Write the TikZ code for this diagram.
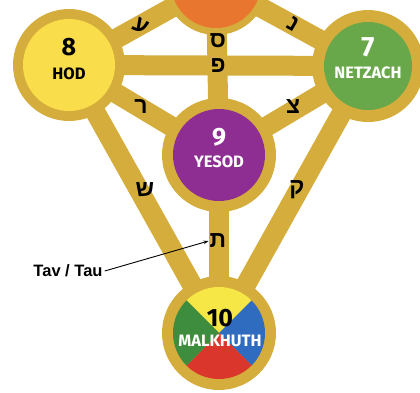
\documentclass[tikz,border=0pt]{standalone}
\usepackage{fontspec}
\setmainfont{Fira Sans}
\newfontfamily\hebfont[Script=Hebrew]{Liberation Sans}
\newfontfamily\lblfont{Liberation Sans}
\usetikzlibrary{arrows.meta}
\definecolor{gold}{RGB}{212,173,60}
\definecolor{hodyellow}{RGB}{250,221,75}
\definecolor{netgreen}{RGB}{104,168,74}
\definecolor{yespurple}{RGB}{142,46,147}
\definecolor{tiforange}{RGB}{232,118,47}
\definecolor{mkyellow}{RGB}{246,230,70}
\definecolor{mkblue}{RGB}{47,107,190}
\definecolor{mkred}{RGB}{218,54,43}
\definecolor{mkgreen}{RGB}{62,140,62}
\tikzset{
  band/.style={draw=gold, line width=20pt},
  ring/.style={circle, fill=gold, inner sep=0pt, minimum size=112pt},
  core/.style={circle, inner sep=0pt, minimum size=92pt},
  letter/.style={font=\hebfont\bfseries\fontsize{23}{25}\selectfont, text=black, inner sep=1pt},
  num/.style={font=\bfseries\fontsize{25}{27}\selectfont, inner sep=0pt},
  nm/.style={font=\bfseries\fontsize{16.5}{18}\selectfont, inner sep=0pt},
}
\begin{document}
\begin{tikzpicture}[x=1pt,y=-1pt]
\useasboundingbox (0,0) rectangle (420,393);
\clip (0,0) rectangle (420,393);
% centres
\coordinate (ctif) at (216,-17);
\coordinate (chod) at (69,65);
\coordinate (cnet) at (368,66);
\coordinate (cyes) at (219,155);
\coordinate (cmal) at (219,333);
% paths
\draw[band] (chod) -- (cnet);
\draw[band] (ctif) -- (cyes);
\draw[band] (ctif) -- (chod);
\draw[band] (ctif) -- (cnet);
\draw[band] (chod) -- (cyes);
\draw[band] (cnet) -- (cyes);
\draw[band] (chod) -- (cmal);
\draw[band] (cnet) -- (cmal);
\draw[band] (cyes) -- (cmal);
% spheres
\node[ring, minimum size=104pt] (tifring) at (ctif) {};
\node[core, fill=tiforange, minimum size=90pt] (tif) at (ctif) {};
\node[ring] (hodring) at (chod) {};
\node[core, fill=hodyellow] (hod) at (chod) {};
\node[ring] (netring) at (cnet) {};
\node[core, fill=netgreen, minimum size=88pt] (net) at (cnet) {};
\node[ring, minimum size=114pt] (yesring) at (cyes) {};
\node[core, fill=yespurple] (yes) at (cyes) {};
\node[ring, minimum size=114pt] (malring) at (cmal) {};
\node[core] (mal) at (cmal) {};
\begin{scope}
  \clip (cmal) circle (46pt);
  \fill[mkyellow] (cmal) -- ++(-60,-60) -- ++(120,0) -- cycle;
  \fill[mkblue] (cmal) -- ++(60,-60) -- ++(0,120) -- cycle;
  \fill[mkred] (cmal) -- ++(60,60) -- ++(-120,0) -- cycle;
  \fill[mkgreen] (cmal) -- ++(-60,60) -- ++(0,-120) -- cycle;
\end{scope}
% labels in spheres
\node[num, text=black] (hodn) at (69,47) {8};
\node[nm, text=black] (hodt) at (69,74) {HOD};
\node[num, text=white, font=\rmfamily\bfseries\fontsize{28}{30}\selectfont] (netn) at (368,47) {7};
\node[nm, text=white] (nett) at (368,73) {NETZACH};
\node[num, text=white] (yesn) at (219,137) {9};
\node[nm, text=white] (yest) at (219,162) {YESOD};
\node[num, text=black] (maln) at (220,318) {10};
\node[nm, text=white] (malt) at (220,341) {MALKHUTH};
% Hebrew letters
\node[letter, rotate=-30] (ayin) at (141,26) {ע};
\node[letter, rotate=-30] (nun) at (293,24) {נ};
\node[letter] (samekh) at (218,41) {ס};
\node[letter] (peh) at (218,66) {פ};
\node[letter] (resh) at (141,107) {ר};
\node[letter] (tzaddi) at (293,107) {צ};
\node[letter] (shin) at (145,190) {ש};
\node[letter] (qoph) at (297,190) {ק};
\node[letter] (tav) at (218,241) {ת};
% Tav pointer
\node[font=\lblfont\bfseries\fontsize{16.5}{18}\selectfont, inner sep=2pt] (tavlbl) at (68,271) {Tav / Tau};
\draw[line width=0.9pt, -{Stealth[length=5pt,width=3.5pt]}] (tavlbl.east) -- (tav.west);
\end{tikzpicture}
\end{document}
